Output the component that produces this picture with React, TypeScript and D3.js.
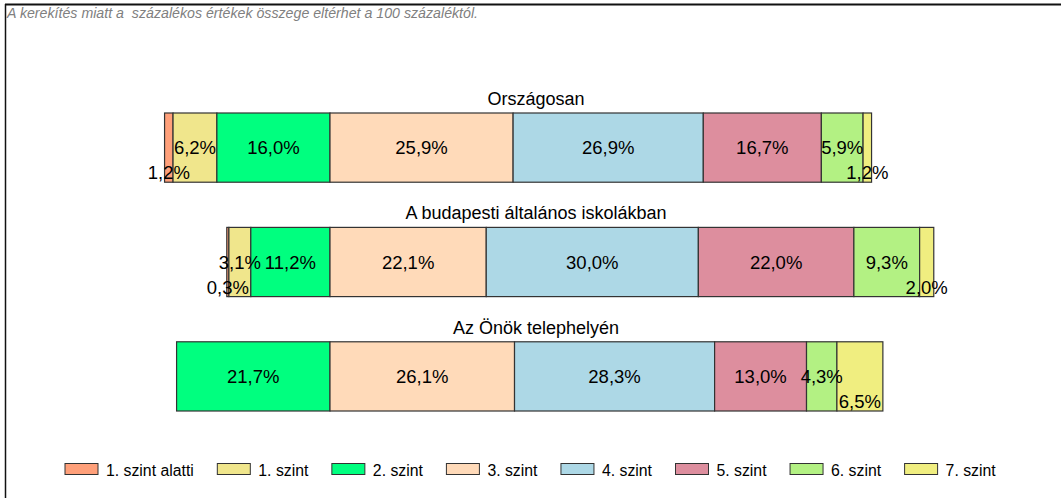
import React, { useEffect, useRef } from "react";
import * as d3 from "d3";

const categories = ["Országosan", "A budapesti általános iskolákban", "Az Önök telephelyén"];
const levels = [
  "1. szint alatti",
  "1. szint",
  "2. szint",
  "3. szint",
  "4. szint",
  "5. szint",
  "6. szint",
  "7. szint",
];
const orszagosan = [1.2, 6.2, 16.0, 25.9, 26.9, 16.7, 5.9, 1.2];
const budapest = [0.3, 3.1, 11.2, 22.1, 30.0, 22.0, 9.3, 2.0];
const telephely = [0, 0, 21.7, 26.1, 28.3, 13.0, 4.3, 6.5];
const colors = ["#FFA07A", "#F0E68C", "#00FF7F", "#FFDAB9", "#ADD8E6", "#DD8E9E", "#B3F183", "#F0EE80"];
const note = "A kerekítés miatt a  százalékos értékek összege eltérhet a 100 százaléktól.";

const W = 1061;
const H = 498;
const FONT = "'Liberation Sans', Arial, sans-serif";

const Chart: React.FC = () => {
  const ref = useRef<SVGSVGElement>(null);

  useEffect(() => {
    const svg = d3.select(ref.current);
    svg.selectAll("*").remove();

    // frame
    svg.append("line").attr("x1", 5).attr("x2", W).attr("y1", 4.5).attr("y2", 4.5)
      .attr("stroke", "#111").attr("stroke-width", 2);
    svg.append("line").attr("x1", 5.5).attr("x2", 5.5).attr("y1", 4).attr("y2", H)
      .attr("stroke", "#111").attr("stroke-width", 1.5);

    svg.append("text")
      .attr("x", 7).attr("y", 18)
      .attr("font-family", FONT).attr("font-size", 14.2).attr("font-style", "italic")
      .attr("fill", "#808080")
      .style("white-space", "pre")
      .text(note);

    const rows = [orszagosan, budapest, telephely];

    // 0 = border between "2. szint" and "3. szint"
    const x = d3.scaleLinear().domain([-40, 90]).range([330 - 40 * 7.07, 330 + 90 * 7.07]);
    const y = d3.scaleBand().domain(categories).range([113, 411]).paddingInner(0.395);

    const fmt = (v: number) => d3.format(".1f")(v).replace(".", ",") + "%";

    categories.forEach((cat, r) => {
      const vals = rows[r];
      const offset = d3.sum(vals.slice(0, 3));
      const starts = vals.map((_, i) => d3.sum(vals.slice(0, i)) - offset);
      const top = y(cat)!;
      const bh = y.bandwidth();
      const g = svg.append("g");

      g.append("text")
        .attr("x", 536).attr("y", top - 8)
        .attr("text-anchor", "middle")
        .attr("font-family", FONT).attr("font-size", 18)
        .attr("fill", "#000")
        .text(cat);

      vals.forEach((v, i) => {
        if (v <= 0) return;
        g.append("rect")
          .attr("x", x(starts[i]))
          .attr("y", top)
          .attr("width", x(starts[i] + v) - x(starts[i]))
          .attr("height", bh)
          .attr("fill", colors[i])
          .attr("stroke", "#333")
          .attr("stroke-width", 1.2);
      });

      vals.forEach((v, i) => {
        if (v <= 0) return;
        const low = i === 0 || i === levels.length - 1;
        g.append("text")
          .attr("x", x(starts[i] + v / 2))
          .attr("y", low ? top + bh - 3 : top + bh / 2 + 6.5)
          .attr("text-anchor", "middle")
          .attr("font-family", FONT).attr("font-size", 18.5)
          .attr("fill", "#000")
          .text(fmt(v));
      });
    });

    // legend
    const lg = svg.append("g");
    let lx = 65;
    levels.forEach((lv, i) => {
      lg.append("rect")
        .attr("x", lx).attr("y", 463.5)
        .attr("width", 33).attr("height", 11)
        .attr("fill", colors[i]).attr("stroke", "#333").attr("stroke-width", 1);
      const t = lg.append("text")
        .attr("x", lx + 41).attr("y", 475.5)
        .attr("font-family", FONT).attr("font-size", 15.8)
        .attr("fill", "#000")
        .text(lv);
      const tw = (t.node() as SVGTextElement).getComputedTextLength();
      lx += 41 + tw + 23.5;
    });
  }, []);

  return (
    <svg
      ref={ref}
      width={W}
      height={H}
      style={{ position: "absolute", left: 0, top: 0, background: "#fff" }}
    />
  );
};

export default function App() {
  return <Chart />;
}
